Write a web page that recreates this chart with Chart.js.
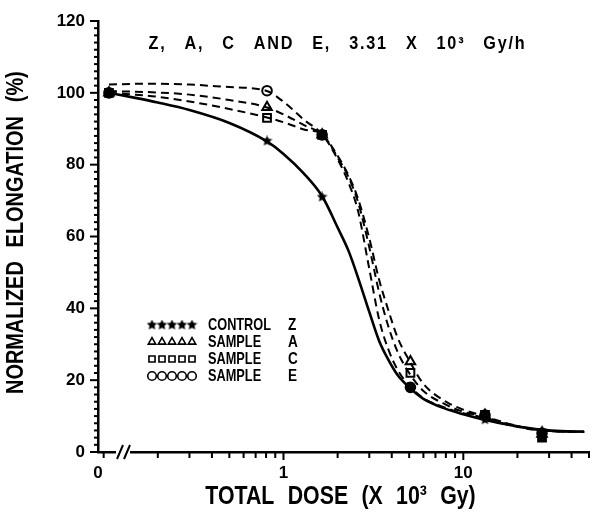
<!DOCTYPE html>
<html>
<head>
<meta charset="utf-8">
<script src="https://cdn.jsdelivr.net/npm/chart.js@4.4.0/dist/chart.umd.min.js"></script>
<style>
  html, body { margin: 0; padding: 0; background: #fff; }
</style>
</head>
<body>
<canvas id="chart" width="600" height="514"></canvas>
<script>
// measured points, dose in 10^5 Gy (dose 0 sits at the broken origin)
const doses = [0.107, 0.81, 1.64, 5.08, 13.2, 27.4];
const controlZ = [100, 86.6, 71, 18, 9, 6];
const sampleA = [100, 96, 88.3, 25.2, 10.3, 5];
const sampleC = [100, 93, 88.3, 22, 10.3, 4];
const sampleE = [100, 100.6, 88.3, 18, 10.3, 5.2];

// fitted curves
const curveDose = [0.107, 0.15, 0.2, 0.3, 0.5, 0.8, 1.0, 1.3, 1.65, 2.0, 2.3, 2.6, 3.0, 3.4, 3.8, 4.3, 5.0, 6.0, 8.0, 10, 13, 17, 22, 28, 35, 47];
const fitZ = [100, 98.6, 97.3, 95.2, 91.6, 86.6, 83, 77.5, 71, 62.5, 56, 48.5, 39, 31, 26, 21.5, 18, 14.8, 12, 10.5, 9, 7.8, 6.8, 6.1, 5.8, 5.7];
const fitA = [100.5, 100.3, 100.1, 99.5, 98, 96, 94, 91, 88.3, 82.5, 77, 70.5, 59.5, 48, 40, 32, 25.5, 19, 14, 11.8, 10, 8.2, 6.8, 6, 5.7, 5.6];
const fitC = [100, 99.5, 98.9, 97.6, 95.5, 93.2, 91.8, 89.8, 88.3, 82, 76.5, 69.5, 57, 44.5, 35.5, 28, 22, 17, 13.2, 11.2, 9.8, 8, 6.7, 6, 5.7, 5.6];
const fitE = [102.3, 102.5, 102.5, 102.3, 101.6, 100.6, 97.5, 92.5, 88.3, 81.5, 75, 67, 51, 37, 29, 23, 18.5, 15, 12.3, 10.8, 9.6, 7.8, 6.6, 5.9, 5.7, 5.6];

const seriesNames = ["CONTROL", "SAMPLE", "SAMPLE", "SAMPLE"];
const seriesCodes = ["Z", "A", "C", "E"];

const xMin = 0.093;
const xMax = 50;
const xTickValues = [xMin, 1, 10];
const xTickLabels = ["0", "1", "10"];
const xMinorTicks = [0.1, 0.2, 0.3, 0.4, 0.5, 0.6, 0.7, 0.8, 0.9, 1, 2, 3, 4, 5, 6, 7, 8, 9, 10, 20, 30, 40, 50];

const FONT = '"Liberation Sans", Arial, sans-serif';

function starImage(size) {
  const c = document.createElement("canvas");
  c.width = c.height = size;
  const g = c.getContext("2d");
  g.beginPath();
  for (let i = 0; i < 10; i++) {
    const r = i % 2 ? size * 0.24 : size * 0.5;
    const a = -Math.PI / 2 + (i * Math.PI) / 5;
    g.lineTo(size / 2 + r * Math.cos(a), size / 2 + r * Math.sin(a));
  }
  g.closePath();
  g.fillStyle = "#000";
  g.fill();
  return c;
}
const star = starImage(11);

const toXY = (xs, ys) => xs.map((x, i) => ({ x: x, y: ys[i] }));
const markSets = [controlZ, sampleA, sampleC, sampleE];

// fill a marker black where it overlaps another sample's marker
function markFill(ctx) {
  const i = ctx.dataIndex;
  const vals = ctx.dataset.values;
  if (!vals) return "#fff";
  const near = markSets.some((o) => o !== vals && Math.abs(o[i] - vals[i]) < 2);
  return near ? "#000" : "#fff";
}

const styles = [
  { pointStyle: star, radius: 5.5 },
  { pointStyle: "triangle", radius: 5.5 },
  { pointStyle: "rect", radius: 5.5 },
  { pointStyle: "circle", radius: 4.8 },
];

const curveSets = [fitZ, fitA, fitC, fitE];
const datasets = [];
curveSets.forEach((f, k) => {
  datasets.push({
    data: toXY(curveDose, f),
    showLine: true,
    borderColor: "#000",
    borderWidth: k === 0 ? 2.6 : 2,
    borderDash: k === 0 ? [] : [8, 5],
    cubicInterpolationMode: "monotone",
    pointRadius: 0,
  });
});
markSets.forEach((m, k) => {
  datasets.push({
    data: toXY(doses, m),
    values: m,
    showLine: false,
    pointStyle: styles[k].pointStyle,
    pointRadius: styles[k].radius,
    pointBorderColor: "#000",
    pointBorderWidth: 2,
    pointBackgroundColor: markFill,
  });
});

function text(ctx, s, x, y, o) {
  ctx.save();
  ctx.translate(x, y);
  if (o.rot) ctx.rotate(o.rot);
  ctx.scale(o.sx || 1, 1);
  ctx.font = "bold " + o.size + "px " + FONT;
  ctx.letterSpacing = (o.ls || 0) + "px";
  ctx.wordSpacing = (o.ws || 0) + "px";
  ctx.textAlign = o.align || "center";
  ctx.textBaseline = "middle";
  ctx.fillStyle = "#000";
  ctx.fillText(s, 0, 0);
  ctx.restore();
}

const decor = {
  id: "decor",
  afterDraw(chart) {
    const ctx = chart.ctx;
    const xs = chart.scales.x;
    const ys = chart.scales.y;
    const a = chart.chartArea;
    ctx.save();
    ctx.strokeStyle = "#000";
    ctx.lineWidth = 2;
    // y ticks
    for (let v = 0; v <= 120; v += 2) {
      const py = ys.getPixelForValue(v);
      const len = v % 20 === 0 ? 8 : 4;
      ctx.beginPath();
      ctx.moveTo(a.left - len, py);
      ctx.lineTo(a.left, py);
      ctx.stroke();
    }
    // x ticks
    xMinorTicks.forEach((v) => {
      const px = xs.getPixelForValue(v);
      const len = v === 1 || v === 10 ? 8 : 6;
      ctx.beginPath();
      ctx.moveTo(px, a.bottom);
      ctx.lineTo(px, a.bottom + len);
      ctx.stroke();
    });
    // axis break
    ctx.fillStyle = "#fff";
    ctx.fillRect(a.left + 18, a.bottom - 3, 14, 6);
    ctx.lineWidth = 2;
    [a.left + 22, a.left + 29].forEach((bx) => {
      ctx.beginPath();
      ctx.moveTo(bx - 3, a.bottom + 7);
      ctx.lineTo(bx + 3, a.bottom - 7);
      ctx.stroke();
    });
    ctx.restore();

    // title inside plot
    text(ctx, "Z, A, C AND E, 3.31 X 10\u00b3 Gy/h", (a.left + a.right) / 2 - 6, a.top + 23,
      { size: 18, sx: 0.9, ls: 2, ws: 13 });
    // axis titles
    text(ctx, "TOTAL DOSE (X 10\u00b3 Gy)", (a.left + a.right) / 2 - 3, a.bottom + 45,
      { size: 26, sx: 0.82, ws: 9 });
    text(ctx, "NORMALIZED ELONGATION (%)", 16, a.bottom - 58,
      { size: 24, sx: 0.83, ws: 10, rot: -Math.PI / 2, align: "left" });

    // legend
    const lx = a.left + 54;
    const ly = a.top + 304;
    seriesNames.forEach((name, k) => {
      const y = ly + k * 17;
      ctx.save();
      ctx.strokeStyle = "#000";
      ctx.fillStyle = "#fff";
      ctx.lineWidth = 1.6;
      for (let j = 0; j < 5; j++) {
        Chart.helpers.drawPoint(ctx, {
          pointStyle: styles[k].pointStyle,
          radius: k === 0 ? 5 : 4.3,
          borderWidth: 1.6,
          rotation: 0,
        }, lx + j * 10, y);
      }
      ctx.restore();
      text(ctx, name, lx + 56, y, { size: 17, sx: 0.75, align: "left" });
      text(ctx, seriesCodes[k], lx + 136, y, { size: 17, sx: 0.8, align: "left" });
    });
  },
};

const chart = new Chart(document.getElementById("chart"), {
  type: "scatter",
  data: { datasets: datasets },
  options: {
    responsive: false,
    animation: false,
    layout: { padding: { top: 21, right: 11, left: 0, bottom: 0 } },
    plugins: { legend: { display: false }, tooltip: { enabled: false } },
    scales: {
      x: {
        type: "logarithmic",
        min: xMin,
        max: xMax,
        afterBuildTicks: (s) => { s.ticks = xTickValues.map((v) => ({ value: v })); },
        afterFit: (s) => { s.height = 62; },
        ticks: {
          callback: (v) => xTickLabels[xTickValues.indexOf(v)] ?? "",
          autoSkip: false,
          maxRotation: 0,
          color: "#000",
          padding: 3,
          font: { family: FONT, size: 17, weight: "bold" },
        },
        grid: { display: false },
        border: { display: true, color: "#000", width: 2.5 },
      },
      y: {
        min: 0,
        max: 120,
        afterFit: (s) => { s.width = 98; },
        ticks: {
          stepSize: 20,
          color: "#000",
          padding: 5,
          font: { family: FONT, size: 17, weight: "bold" },
        },
        grid: { display: false },
        border: { display: true, color: "#000", width: 2.5 },
      },
    },
  },
  plugins: [decor],
});
</script>
</body>
</html>
